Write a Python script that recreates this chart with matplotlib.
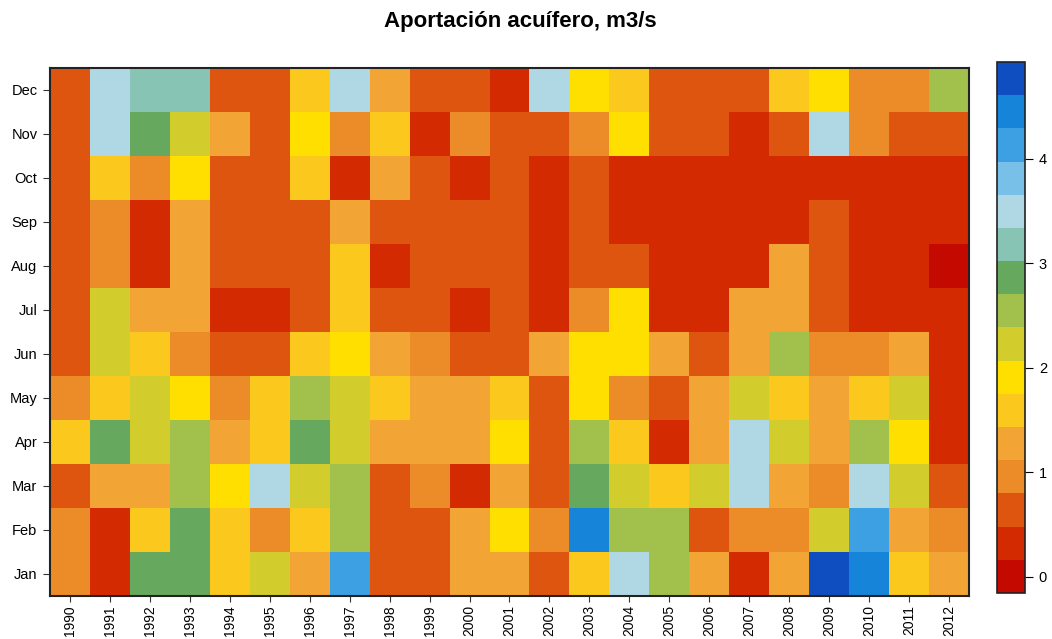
import numpy as np
import matplotlib
matplotlib.use("Agg")
import matplotlib.pyplot as plt
from matplotlib.colors import ListedColormap, BoundaryNorm

plt.rcParams['font.family'] = ['Liberation Sans', 'DejaVu Sans']

years = list(range(1990, 2013))
months = ["Jan", "Feb", "Mar", "Apr", "May", "Jun", "Jul", "Aug", "Sep", "Oct", "Nov", "Dec"]

# Monthly aquifer contribution (m3/s), Jan..Dec, one list per year
v1990 = [0.95, 0.95, 0.6, 1.6, 0.95, 0.6, 0.6, 0.6, 0.6, 0.6, 0.6, 0.6]
v1991 = [0.3, 0.3, 1.25, 2.85, 1.6, 2.2, 2.2, 0.95, 0.95, 1.6, 3.5, 3.5]
v1992 = [2.85, 1.6, 1.25, 2.2, 2.2, 1.6, 1.25, 0.3, 0.3, 0.95, 2.85, 3.2]
v1993 = [2.85, 2.85, 2.55, 2.55, 1.9, 0.95, 1.25, 1.25, 1.25, 1.9, 2.2, 3.2]
v1994 = [1.6, 1.6, 1.9, 1.25, 0.95, 0.6, 0.3, 0.6, 0.6, 0.6, 1.25, 0.6]
v1995 = [2.2, 0.95, 3.5, 1.6, 1.6, 0.6, 0.3, 0.6, 0.6, 0.6, 0.6, 0.6]
v1996 = [1.25, 1.6, 2.2, 2.85, 2.55, 1.6, 0.6, 0.6, 0.6, 1.6, 1.9, 1.6]
v1997 = [4.1, 2.55, 2.55, 2.2, 2.2, 1.9, 1.6, 1.6, 1.25, 0.3, 0.95, 3.5]
v1998 = [0.6, 0.6, 0.6, 1.25, 1.6, 1.25, 0.6, 0.3, 0.6, 1.25, 1.6, 1.25]
v1999 = [0.6, 0.6, 0.95, 1.25, 1.25, 0.95, 0.6, 0.6, 0.6, 0.6, 0.3, 0.6]
v2000 = [1.25, 1.25, 0.3, 1.25, 1.25, 0.6, 0.3, 0.6, 0.6, 0.3, 0.95, 0.6]
v2001 = [1.25, 1.9, 1.25, 1.9, 1.6, 0.6, 0.6, 0.6, 0.6, 0.6, 0.6, 0.3]
v2002 = [0.6, 0.95, 0.6, 0.6, 0.6, 1.25, 0.3, 0.3, 0.3, 0.3, 0.6, 3.5]
v2003 = [1.6, 4.45, 2.85, 2.55, 1.9, 1.9, 0.95, 0.6, 0.6, 0.6, 0.95, 1.9]
v2004 = [3.5, 2.55, 2.2, 1.6, 0.95, 1.9, 1.9, 0.6, 0.3, 0.3, 1.9, 1.6]
v2005 = [2.55, 2.55, 1.6, 0.3, 0.6, 1.25, 0.3, 0.3, 0.3, 0.3, 0.6, 0.6]
v2006 = [1.25, 0.6, 2.2, 1.25, 1.25, 0.6, 0.3, 0.3, 0.3, 0.3, 0.6, 0.6]
v2007 = [0.3, 0.95, 3.5, 3.5, 2.2, 1.25, 1.25, 0.3, 0.3, 0.3, 0.3, 0.6]
v2008 = [1.25, 0.95, 1.25, 2.2, 1.6, 2.55, 1.25, 1.25, 0.3, 0.3, 0.6, 1.6]
v2009 = [4.75, 2.2, 0.95, 1.25, 1.25, 0.95, 0.6, 0.6, 0.6, 0.3, 3.5, 1.9]
v2010 = [4.45, 4.1, 3.5, 2.55, 1.6, 0.95, 0.3, 0.3, 0.3, 0.3, 0.95, 0.95]
v2011 = [1.6, 1.25, 2.2, 1.9, 2.2, 1.25, 0.3, 0.3, 0.3, 0.3, 0.6, 0.95]
v2012 = [1.25, 0.95, 0.6, 0.3, 0.3, 0.3, 0.3, 0.0, 0.3, 0.3, 0.6, 2.55]

data = np.array([v1990, v1991, v1992, v1993, v1994, v1995, v1996, v1997,
                 v1998, v1999, v2000, v2001, v2002, v2003, v2004, v2005,
                 v2006, v2007, v2008, v2009, v2010, v2011, v2012]).T  # months x years

level_colors = ['#C40A00', '#D42A02', '#DE5510', '#EC8C28', '#F2A535', '#FBC81E',
                '#FFDF00', '#D2CC2C', '#A2C04C', '#66A85E', '#88C4B4', '#B0D8E4',
                '#78C0E8', '#3CA0E2', '#1684D8', '#0E4EC0']
bounds = np.linspace(-0.155, 4.925, 17)
cmap = ListedColormap(level_colors)
norm = BoundaryNorm(bounds, cmap.N)

fig = plt.figure(figsize=(10.52, 6.39), dpi=100)
ax = fig.add_axes([0.0475, 0.0673, 0.8736, 0.8263])
xe = np.arange(len(years) + 1) - 0.5
ye = np.arange(len(months) + 1) - 0.5
mesh = ax.pcolormesh(xe, ye, data, cmap=cmap, norm=norm, shading='flat')
ax.set_xlim(-0.5, len(years) - 0.5)
ax.set_ylim(-0.5, len(months) - 0.5)
ax.set_xticks(np.arange(len(years)))
ax.set_xticklabels([str(y) for y in years], rotation=90, fontsize=10)
ax.set_yticks(np.arange(len(months)))
ax.set_yticklabels(months, fontsize=10.5)
ax.tick_params(axis='y', length=5, width=0.8, color='#333333', pad=4)
ax.tick_params(axis='x', length=4, width=0.8, color='#333333', pad=2.5)
for s in ax.spines.values():
    s.set_linewidth(1.5)
    s.set_color('#222222')

cax = fig.add_axes([0.9477, 0.072, 0.0266, 0.831])
cb = fig.colorbar(mesh, cax=cax, ticks=[0, 1, 2, 3, 4])
cb.minorticks_off()
cb.ax.tick_params(labelsize=10.5, length=6, width=0.8, pad=4)
cb.outline.set_linewidth(1.2)
cb.outline.set_edgecolor('#222222')

fig.text(0.495, 1 - 22 / 639, "Aportación acuífero, m3/s", ha='center', va='center',
         fontsize=16, fontweight='bold')

fig.savefig("out.png", dpi=100)
